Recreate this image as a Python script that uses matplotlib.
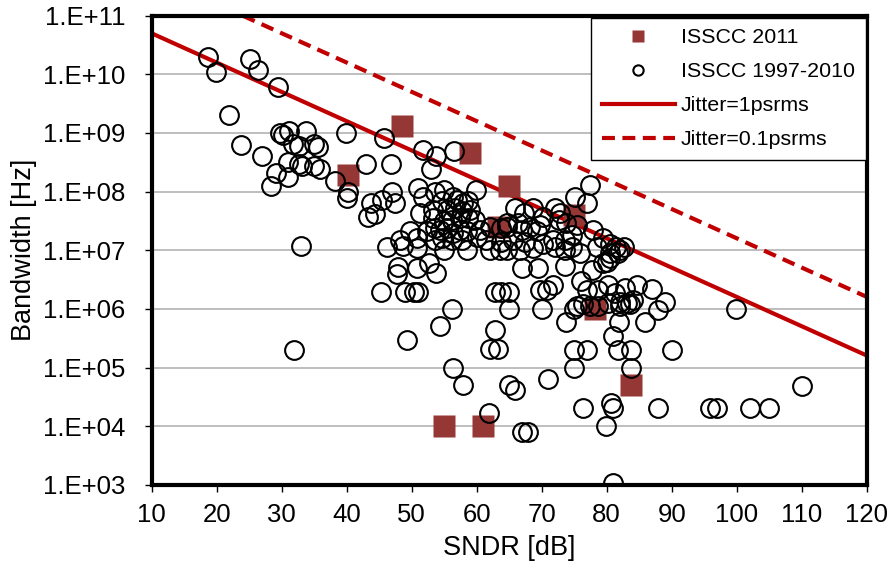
import numpy as np
import matplotlib
matplotlib.use('Agg')
import matplotlib.pyplot as plt
from matplotlib.ticker import FixedLocator, FuncFormatter

plt.rcParams['font.family'] = ['Liberation Sans', 'DejaVu Sans']

# ISSCC 2011 designs (SNDR [dB], bandwidth [Hz])
sndr_2011 = [40.2, 48.5, 59.0, 65.0, 63.3, 74.9, 78.2, 83.7, 55.0, 61.0]
bw_2011 = [1.9e8, 1.3e9, 4.5e8, 1.25e8, 2.5e7, 4.0e7, 1.0e6, 5.0e4, 1.0e4, 1.0e4]

# ISSCC 1997-2010 designs
sndr_old = [
    18.6, 19.9, 25.1, 26.3, 29.4, 21.9, 39.9, 45.7, 29.8, 30.2,
    31.2, 33.8, 31.8, 32.6, 34.9, 35.6, 23.7, 26.9, 30.9, 32.6,
    33.1, 34.9, 35.9, 29.1, 30.9, 28.3, 38.2, 42.9, 46.8, 40.2,
    40.0, 43.8, 43.3, 44.4, 45.4, 46.9, 47.4, 32.9, 46.2, 31.9,
    47.9, 47.8, 45.3, 49.0, 50.3, 51.0, 49.3,
    51.8, 53.8, 56.5, 52.9, 50.9, 51.8, 53.6, 54.9, 56.4, 59.9,
    54.6, 56.9, 57.9, 58.7, 51.3, 53.3, 55.4, 56.7, 57.7, 59.0,
    53.3, 54.9, 56.2, 57.4, 58.7, 59.7, 49.7, 52.3, 53.6, 54.4,
    55.4, 56.4, 57.4, 58.5, 60.5, 48.2, 50.8, 53.6, 54.6, 56.2,
    57.7, 60.0, 61.5, 62.0, 63.8, 64.6, 48.7, 50.8, 54.9, 58.5,
    62.0, 63.6, 64.6, 50.8, 52.6, 53.8, 56.2, 54.4, 62.8, 63.8,
    64.9, 62.8, 62.0, 63.3, 64.9, 56.4, 57.9, 64.9, 65.9, 70.9,
    61.9, 66.9, 67.9,
    65.9, 67.2, 68.7, 70.2, 72.1, 72.8, 72.6, 64.6, 66.4, 68.2,
    69.7, 66.9, 69.2, 73.8, 75.4, 74.6, 73.6, 77.9, 79.5, 80.5,
    81.5, 82.0, 75.1, 76.9, 77.4, 63.8, 65.6, 67.4, 70.2, 71.8,
    66.7, 68.7, 72.1, 73.6, 74.6, 75.9, 78.5, 80.5, 81.8, 82.6,
    80.0, 66.9, 69.5, 73.6, 76.0, 77.7, 79.5, 80.5,
    69.7, 70.8, 71.8, 77.0, 78.6, 80.2, 81.3, 82.8, 84.6, 86.9,
    88.9, 87.9,
    70.0, 74.9, 75.4, 76.4, 77.4, 78.6, 80.2, 82.0, 82.0, 83.1,
    83.6, 84.1, 73.8, 81.9, 85.9, 80.9, 74.9, 76.9, 81.8, 83.8,
    90.0, 74.9, 83.8, 99.9, 110.0, 76.4, 80.7, 81.0, 87.9, 95.9,
    96.9, 102.0, 104.9, 79.9, 81.0,
]
bw_old = [
    2.0e10, 1.1e10, 1.8e10, 1.2e10, 6.0e9, 2.0e9, 1.0e9, 8.2e8, 9.9e8, 9.3e8,
    1.1e9, 1.1e9, 6.6e8, 5.9e8, 6.6e8, 5.7e8, 6.3e8, 4.0e8, 3.2e8, 3.0e8,
    2.7e8, 2.7e8, 2.4e8, 2.1e8, 1.8e8, 1.25e8, 1.5e8, 3.0e8, 3.0e8, 1.0e8,
    7.7e7, 6.3e7, 3.7e7, 4.2e7, 7.2e7, 1.0e8, 6.3e7, 1.2e7, 1.15e7, 2.0e5,
    5.2e6, 4.0e6, 1.95e6, 1.95e6, 1.95e6, 1.95e6, 3.0e5,
    5.2e8, 4.1e8, 5.0e8, 2.4e8, 1.15e8, 8.0e7, 1.0e8, 1.05e8, 8.2e7, 1.05e8,
    6.8e7, 7.2e7, 6.3e7, 7.0e7, 4.3e7, 4.9e7, 4.9e7, 5.3e7, 4.6e7, 4.9e7,
    3.5e7, 3.1e7, 3.3e7, 3.5e7, 3.5e7, 3.3e7, 2.1e7, 2.1e7, 2.4e7, 2.2e7,
    2.4e7, 1.95e7, 2.2e7, 2.1e7, 2.2e7, 1.5e7, 1.6e7, 1.5e7, 1.6e7, 1.5e7,
    1.5e7, 1.7e7, 1.5e7, 2.5e7, 2.4e7, 2.5e7, 1.2e7, 1.07e7, 1.0e7, 1.0e7,
    1.0e7, 1.0e7, 1.0e7, 4.9e6, 6.0e6, 4.1e6, 1.0e6, 5.1e5, 1.95e6, 1.95e6,
    1.95e6, 4.4e5, 2.1e5, 2.1e5, 1.0e6, 1.0e5, 5.0e4, 5.0e4, 4.2e4, 6.3e4,
    1.7e4, 8.1e3, 8.1e3,
    5.2e7, 4.3e7, 5.2e7, 3.7e7, 5.2e7, 4.3e7, 3.3e7, 2.9e7, 2.9e7, 2.5e7,
    2.7e7, 2.2e7, 2.1e7, 2.9e7, 2.7e7, 1.8e7, 1.5e7, 2.2e7, 1.6e7, 1.3e7,
    1.15e7, 1.0e7, 8.2e7, 6.3e7, 1.3e8, 1.4e7, 1.5e7, 1.4e7, 1.3e7, 1.5e7,
    1.0e7, 1.07e7, 1.15e7, 1.0e7, 1.15e7, 8.9e6, 1.15e7, 8.9e6, 8.9e6, 1.15e7,
    6.4e6, 4.9e6, 4.9e6, 5.3e6, 3.0e6, 4.6e6, 6.0e6, 7.3e6,
    2.1e6, 2.1e6, 2.6e6, 2.1e6, 2.1e6, 2.6e6, 1.85e6, 2.3e6, 2.6e6, 2.2e6,
    1.3e6, 9.6e5,
    1.0e6, 1.0e6, 1.1e6, 1.2e6, 1.1e6, 1.1e6, 1.25e6, 1.1e6, 1.3e6, 1.25e6,
    1.2e6, 1.4e6, 6.0e5, 6.0e5, 6.0e5, 3.4e5, 2.0e5, 2.0e5, 2.0e5, 1.95e5,
    2.0e5, 1.0e5, 1.0e5, 1.0e6, 4.9e4, 2.0e4, 2.5e4, 2.0e4, 2.0e4, 2.0e4,
    2.0e4, 2.0e4, 2.0e4, 1.0e4, 1.07e3,
]

# jitter limit lines (end points)
jit1_sndr = [10, 120]
jit1_bw = [5.0e10, 1.6e5]
jit01_sndr = [10, 120]
jit01_bw = [5.0e11, 1.6e6]

y_ticks = [1e3, 1e4, 1e5, 1e6, 1e7, 1e8, 1e9, 1e10, 1e11]
x_ticks = list(range(10, 121, 10))

red = '#C00000'
dark_red = '#953735'

fig = plt.figure(figsize=(8.92, 5.69), dpi=100)
ax = fig.add_axes([0.170, 0.148, 0.8017, 0.8245])

ax.plot(jit1_sndr, jit1_bw, color=red, lw=3, label='Jitter=1psrms', zorder=2)
ax.plot(jit01_sndr, jit01_bw, color=red, lw=3, ls=(0, (3.1, 1.8)),
        label='Jitter=0.1psrms', zorder=2)
ax.plot(sndr_2011, bw_2011, ls='none', marker='s', ms=15.5, color=dark_red,
        mec='none', label='ISSCC 2011', zorder=3)
ax.plot(sndr_old, bw_old, ls='none', marker='o', ms=13.5, mfc='none', mec='black',
        mew=1.5, label='ISSCC 1997-2010', zorder=4)

ax.set_yscale('log')
ax.set_xlim(10, 120)
ax.set_ylim(1e3, 1e11)
ax.yaxis.set_major_locator(FixedLocator(y_ticks))
ax.yaxis.set_minor_locator(FixedLocator([]))
ax.yaxis.set_major_formatter(FuncFormatter(lambda v, p: '1.E+%02d' % int(round(np.log10(v)))))
ax.set_xticks(x_ticks)
ax.grid(axis='y', color='#b3b3b3', lw=1.2)
ax.set_axisbelow(True)
ax.tick_params(direction='out', length=5, width=1, labelsize=18.5, colors='black')
ax.tick_params(axis='x', pad=8)
ax.tick_params(axis='y', pad=14)
for s in ax.spines.values():
    s.set_linewidth(3)
    s.set_color('black')

ax.set_xlabel('SNDR [dB]', fontsize=19.5, labelpad=6)
ax.set_ylabel('Bandwidth [Hz]', fontsize=19.5, labelpad=4)

handles, labels = ax.get_legend_handles_labels()
order = [2, 3, 0, 1]
leg = ax.legend([handles[i] for i in order], [labels[i] for i in order],
                loc='upper right', bbox_to_anchor=(0.9985, 0.996), borderaxespad=0,
                fontsize=15.4, markerscale=0.55, handlelength=3.4,
                handletextpad=0.3, labelspacing=0.7, borderpad=0.5,
                fancybox=False, framealpha=1, edgecolor='black')
leg.get_frame().set_linewidth(1)

fig.savefig('out.png', dpi=100)
